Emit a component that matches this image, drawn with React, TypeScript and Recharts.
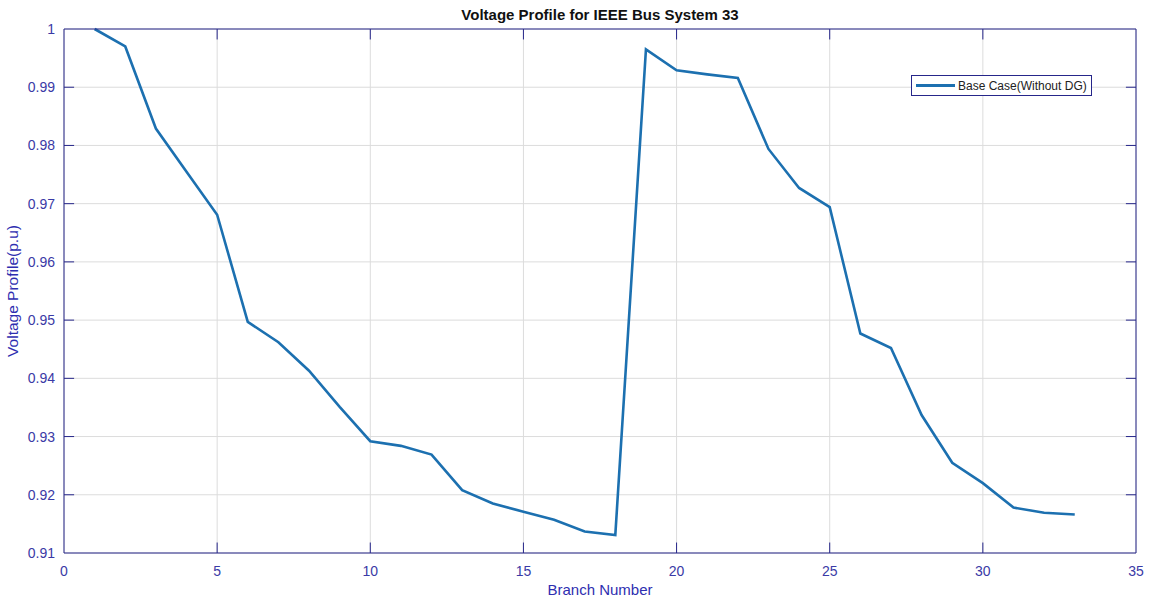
import React from "react";
import { CartesianGrid, Line, LineChart, ReferenceLine, XAxis, YAxis } from "recharts";

const branches = [
  1, 2, 3, 4, 5, 6, 7, 8, 9, 10, 11, 12, 13, 14, 15, 16, 17, 18, 19, 20, 21, 22, 23, 24, 25, 26, 27, 28, 29, 30, 31, 32, 33,
];

const baseCase = [
  1.0, 0.997, 0.9829, 0.9755, 0.9681, 0.9497, 0.9462, 0.9413, 0.9351, 0.9292, 0.9284, 0.9269, 0.9208, 0.9185, 0.9171,
  0.9157, 0.9137, 0.9131, 0.9965, 0.9929, 0.9922, 0.9916, 0.9794, 0.9727, 0.9694, 0.9477, 0.9452, 0.9337, 0.9255,
  0.922, 0.9178, 0.9169, 0.9166,
];

const xTicks = [0, 5, 10, 15, 20, 25, 30, 35];
const yTicks = [0.91, 0.92, 0.93, 0.94, 0.95, 0.96, 0.97, 0.98, 0.99, 1];

const data = branches.map((b, i) => ({ branch: b, v: baseCase[i] }));

const X_MIN = 0;
const X_MAX = 35;
const Y_MIN = 0.91;
const Y_MAX = 1;
// inward tick lengths in data units (~10px)
const X_TICK_LEN = 0.0018;
const Y_TICK_LEN = 0.33;

const AXIS = "#26268a";
const TICK_TEXT = "#3a3aa6";
const LINE = "#1c70b0";
const FONT = "'Liberation Sans', Arial, sans-serif";

const fmtY = (v: number) => String(Number(v.toFixed(2)));

export default function App() {
  return (
    <div style={{ position: "absolute", left: 0, top: 0, width: 1155, height: 603, background: "#fff" }}>
      <div
        style={{
          position: "absolute",
          left: 64,
          width: 1072,
          top: 6,
          textAlign: "center",
          fontFamily: FONT,
          fontWeight: "bold",
          fontSize: 15,
          color: "#111",
        }}
      >
        Voltage Profile for IEEE Bus System 33
      </div>
      <LineChart
        width={1155}
        height={603}
        data={data}
        margin={{ top: 28, right: 18, left: 4, bottom: 20 }}
        style={{ fontFamily: FONT }}
      >
        <CartesianGrid stroke="#dcdcdc" strokeWidth={1} />
        <XAxis
          dataKey="branch"
          type="number"
          domain={[X_MIN, X_MAX]}
          ticks={xTicks}
          interval={0}
          height={30}
          stroke={AXIS}
          tickLine={false}
          tickMargin={7}
          tick={{ fill: TICK_TEXT, fontSize: 14 }}
          label={{ value: "Branch Number", position: "insideBottom", offset: -12, fill: "#2e2eb0", fontSize: 15 }}
        />
        <XAxis
          xAxisId="top"
          orientation="top"
          dataKey="branch"
          type="number"
          domain={[X_MIN, X_MAX]}
          ticks={xTicks}
          height={1}
          stroke={AXIS}
          tickLine={false}
          tick={false}
        />
        <YAxis
          type="number"
          domain={[Y_MIN, Y_MAX]}
          ticks={yTicks}
          interval={0}
          width={60}
          stroke={AXIS}
          tickLine={false}
          tickMargin={3}
          tickFormatter={fmtY}
          tick={{ fill: TICK_TEXT, fontSize: 14 }}
          label={{
            value: "Voltage Profile(p.u)",
            angle: -90,
            position: "insideLeft",
            offset: 8,
            style: { textAnchor: "middle" },
            fill: "#2e2eb0",
            fontSize: 15.5,
          }}
        />
        <YAxis
          yAxisId="right"
          orientation="right"
          type="number"
          domain={[Y_MIN, Y_MAX]}
          ticks={yTicks}
          width={1}
          stroke={AXIS}
          tickLine={false}
          tick={false}
        />
        {xTicks
          .filter((t) => t > X_MIN && t < X_MAX)
          .map((t) => (
            <ReferenceLine
              key={`xb${t}`}
              segment={[
                { x: t, y: Y_MIN },
                { x: t, y: Y_MIN + X_TICK_LEN },
              ]}
              stroke={AXIS}
              strokeWidth={1}
            />
          ))}
        {xTicks
          .filter((t) => t > X_MIN && t < X_MAX)
          .map((t) => (
            <ReferenceLine
              key={`xt${t}`}
              segment={[
                { x: t, y: Y_MAX },
                { x: t, y: Y_MAX - X_TICK_LEN },
              ]}
              stroke={AXIS}
              strokeWidth={1}
            />
          ))}
        {yTicks
          .filter((t) => t > Y_MIN && t < Y_MAX)
          .map((t) => (
            <ReferenceLine
              key={`yl${t}`}
              segment={[
                { x: X_MIN, y: t },
                { x: X_MIN + Y_TICK_LEN, y: t },
              ]}
              stroke={AXIS}
              strokeWidth={1}
            />
          ))}
        {yTicks
          .filter((t) => t > Y_MIN && t < Y_MAX)
          .map((t) => (
            <ReferenceLine
              key={`yr${t}`}
              segment={[
                { x: X_MAX, y: t },
                { x: X_MAX - Y_TICK_LEN, y: t },
              ]}
              stroke={AXIS}
              strokeWidth={1}
            />
          ))}
        <Line
          type="linear"
          dataKey="v"
          name="Base Case(Without DG)"
          stroke={LINE}
          strokeWidth={2.6}
          dot={false}
          isAnimationActive={false}
        />
      </LineChart>
      <div
        style={{
          position: "absolute",
          left: 911,
          top: 75,
          height: 19,
          border: `1px solid ${AXIS}`,
          background: "#fff",
          display: "flex",
          alignItems: "center",
          padding: "0 4px",
          fontFamily: FONT,
          fontSize: 12,
          color: "#222",
          whiteSpace: "nowrap",
        }}
      >
        <span style={{ display: "inline-block", width: 39, height: 3, background: LINE, marginRight: 3 }} />
        Base Case(Without DG)
      </div>
    </div>
  );
}
